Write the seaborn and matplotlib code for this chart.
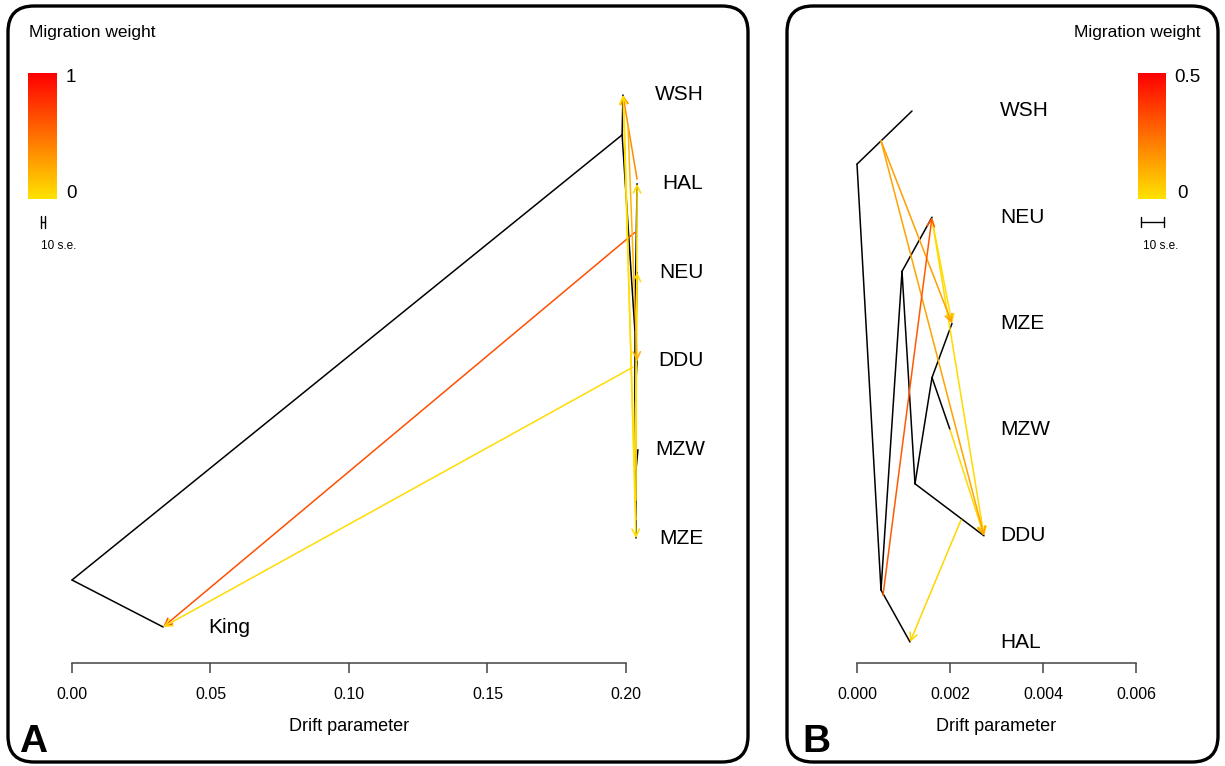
import matplotlib
matplotlib.use('Agg')
import matplotlib.pyplot as plt
import matplotlib.transforms as mtransforms
from matplotlib.colors import LinearSegmentedColormap
from matplotlib.patches import FancyBboxPatch
import numpy as np
import pandas as pd
import seaborn as sns

sns.set_style('white')
plt.rcParams['font.family'] = ['Liberation Sans', 'DejaVu Sans']
plt.rcParams['text.color'] = 'black'
plt.rcParams['axes.labelcolor'] = 'black'
plt.rcParams['xtick.color'] = 'black'

# panel A: tree with the King outgroup (drift, vertical position)
a_nodes = ['root', 'King', 'n1', 'WSH', 'n2', 'HAL', 'n3', 'NEU', 'DDU', 'n4', 'MZW', 'MZE']
a_x = [0.0, 0.0329, 0.1986, 0.1989, 0.2032, 0.2040, 0.2032, 0.2040, 0.2040, 0.2036, 0.2043, 0.2036]
a_y = [5.47, 6.0, 0.45, 0.0, 2.65, 1.0, 3.44, 2.0, 3.0, 4.23, 4.0, 5.0]
a_edges = [('root', 'n1'), ('root', 'King'), ('n1', 'WSH'), ('n1', 'n2'), ('n2', 'HAL'),
           ('n2', 'n3'), ('n3', 'NEU'), ('n3', 'DDU'), ('n3', 'n4'), ('n4', 'MZW'), ('n4', 'MZE')]
a_tips = ['WSH', 'HAL', 'NEU', 'DDU', 'MZW', 'MZE', 'King']
a_label_x = [0.2105, 0.2130, 0.2119, 0.2116, 0.2105, 0.2119, 0.0491]
# migration edges: from (x0, y0) to (x1, y1), weight; drawn in this order
a_mig_x0 = [0.2040, 0.2032, 0.2025, 0.2036, 0.2036, 0.2032, 0.1993, 0.2007]
a_mig_y0 = [0.95, 1.55, 3.07, 4.79, 4.57, 4.23, 0.17, 0.34]
a_mig_x1 = [0.1989, 0.0329, 0.0329, 0.1989, 0.2040, 0.2040, 0.2036, 0.2040]
a_mig_y1 = [0.0, 6.0, 6.0, 0.0, 1.0, 2.0, 5.0, 3.0]
a_mig_w = [0.38, 0.65, 0.03, 0.02, 0.04, 0.03, 0.02, 0.2]
a_ticks = [0.0, 0.05, 0.10, 0.15, 0.20]
a_ticklabels = ['0.00', '0.05', '0.10', '0.15', '0.20']

# panel B: tree without outgroup
b_nodes = ['root', 'WSH', 'n1', 'HAL', 'n2', 'NEU', 'n3', 'DDU', 'n4', 'MZE', 'MZW']
b_x = [0.0, 0.001183, 0.000516, 0.00114, 0.000968, 0.001613, 0.001247, 0.002731, 0.001613, 0.002043, 0.0020]
b_y = [0.50, 0.0, 4.51, 5.0, 1.51, 1.0, 3.51, 4.0, 2.51, 2.0, 3.0]
b_edges = [('root', 'WSH'), ('root', 'n1'), ('n1', 'HAL'), ('n1', 'n2'), ('n2', 'NEU'),
           ('n2', 'n3'), ('n3', 'DDU'), ('n3', 'n4'), ('n4', 'MZE'), ('n4', 'MZW')]
b_tips = ['WSH', 'NEU', 'MZE', 'MZW', 'DDU', 'HAL']
b_label_x = [0.003075] * 6
b_mig_x0 = [0.001613, 0.001613, 0.0020, 0.002237, 0.000516, 0.000516, 0.000559]
b_mig_y0 = [1.02, 1.02, 3.0, 3.85, 0.28, 0.28, 4.56]
b_mig_x1 = [0.002043, 0.002731, 0.002731, 0.00114, 0.002043, 0.002731, 0.001613]
b_mig_y1 = [2.0, 4.0, 4.0, 5.0, 2.0, 4.0, 1.0]
b_mig_w = [0.01, 0.02, 0.02, 0.03, 0.146, 0.14, 0.30]
b_ticks = [0.0, 0.002, 0.004, 0.006]
b_ticklabels = ['0.000', '0.002', '0.004', '0.006']

mig_cmap = LinearSegmentedColormap.from_list('mig', ['#FFE200', '#FF0000'])


def draw_tree(ax, names, xs, ys, edges, tips, label_x, mx0, my0, mx1, my1, mw, wmax):
    pos = dict(zip(names, zip(xs, ys)))
    rows = []
    for i, (p, c) in enumerate(edges):
        for n in (p, c):
            rows.append({'edge': i, 'x': pos[n][0], 'y': pos[n][1]})
    df = pd.DataFrame(rows)
    sns.lineplot(data=df, x='x', y='y', units='edge', estimator=None, sort=False,
                 color='black', lw=1.1, ax=ax, legend=False)
    norm = plt.Normalize(0, wmax)
    for x0, y0, x1, y1, w in zip(mx0, my0, mx1, my1, mw):
        ax.annotate('', xy=(x1, y1), xytext=(x0, y0),
                    arrowprops=dict(arrowstyle='->,head_length=0.45,head_width=0.22',
                                    color=mig_cmap(norm(w)), lw=1.1,
                                    shrinkA=0, shrinkB=0, mutation_scale=12))
    for t, lx in zip(tips, label_x):
        ax.text(lx, pos[t][1], t, fontsize=15, va='center', ha='left')


def style_axis(ax, xlim, ylim, ticks, ticklabels):
    ax.set_xlim(*xlim)
    ax.set_ylim(*ylim)
    ax.set_facecolor('none')
    for s in ['left', 'top', 'right']:
        ax.spines[s].set_visible(False)
    ax.spines['bottom'].set_bounds(ticks[0], ticks[-1])
    ax.spines['bottom'].set_color('#444444')
    ax.spines['bottom'].set_linewidth(1.1)
    ax.set_xticks(ticks)
    ax.set_xticklabels(ticklabels)
    ax.set_yticks([])
    ax.tick_params(axis='x', bottom=True, direction='out', length=7, width=1.1,
                   color='#444444', labelcolor='black', labelsize=11.5, pad=10)
    ax.set_ylabel('')
    ax.set_xlabel('Drift parameter', fontsize=13)
    tr = mtransforms.blended_transform_factory(ax.transData, ax.transAxes)
    ax.xaxis.set_label_coords((ticks[0] + ticks[-1]) / 2, -0.092, transform=tr)


W, H = 1225, 766
fig = plt.figure(figsize=(12.25, 7.66), dpi=100)

# overlay in pixel coordinates for frames, legends and panel letters
ov = fig.add_axes([0, 0, 1, 1], zorder=-1)
ov.set_axis_off()

axA = fig.add_axes([20 / W, (H - 663) / H, 725 / W, 603 / H])
draw_tree(axA, a_nodes, a_x, a_y, a_edges, a_tips, a_label_x,
          a_mig_x0, a_mig_y0, a_mig_x1, a_mig_y1, a_mig_w, 1.0)
style_axis(axA, (-0.01877, 0.24296), (6.406, -0.3947), a_ticks, a_ticklabels)

axB = fig.add_axes([790 / W, (H - 663) / H, 425 / W, 603 / H])
draw_tree(axB, b_nodes, b_x, b_y, b_edges, b_tips, b_label_x,
          b_mig_x0, b_mig_y0, b_mig_x1, b_mig_y1, b_mig_w, 0.5)
style_axis(axB, (-0.0014409, 0.0076989), (5.1977, -0.4802), b_ticks, b_ticklabels)

grad = np.linspace(1, 0, 200)[:, None]
ov.imshow(grad, extent=[28, 57, 199, 73], cmap=mig_cmap, aspect='auto', origin='upper')
ov.imshow(grad, extent=[1138, 1166, 199, 73], cmap=mig_cmap, aspect='auto', origin='upper')

ov.add_patch(FancyBboxPatch((8, 6), 740, 756, boxstyle='round,pad=0,rounding_size=26',
                            fill=False, lw=2.4, ec='black'))
ov.add_patch(FancyBboxPatch((787, 6), 431, 756, boxstyle='round,pad=0,rounding_size=26',
                            fill=False, lw=2.4, ec='black'))
ov.set_xlim(0, W)
ov.set_ylim(H, 0)

ov.text(29, 33, 'Migration weight', fontsize=12.5, va='center', ha='left')
ov.text(66, 78, '1', fontsize=13.5, va='center', ha='left')
ov.text(66, 194, '0', fontsize=13.5, va='center', ha='left')
ov.text(1200, 33, 'Migration weight', fontsize=12.5, va='center', ha='right')
ov.text(1174, 78, '0.5', fontsize=13.5, va='center', ha='left')
ov.text(1177, 194, '0', fontsize=13.5, va='center', ha='left')

# 10 s.e. scale bars
ov.plot([41, 45], [222, 222], color='black', lw=1)
ov.plot([41, 41], [216, 228], color='black', lw=1)
ov.plot([45, 45], [216, 228], color='black', lw=1)
ov.text(41, 246, '10 s.e.', fontsize=8.5, va='center', ha='left')
ov.plot([1141, 1164], [222, 222], color='black', lw=1)
ov.plot([1141, 1141], [217, 227], color='black', lw=1)
ov.plot([1164, 1164], [217, 227], color='black', lw=1)
ov.text(1143, 246, '10 s.e.', fontsize=8.5, va='center', ha='left')

ov.text(33, 742, 'A', fontsize=28, fontweight='bold', va='center', ha='center')
ov.text(816, 742, 'B', fontsize=28, fontweight='bold', va='center', ha='center')

fig.savefig('out.png', dpi=100, facecolor='white')
